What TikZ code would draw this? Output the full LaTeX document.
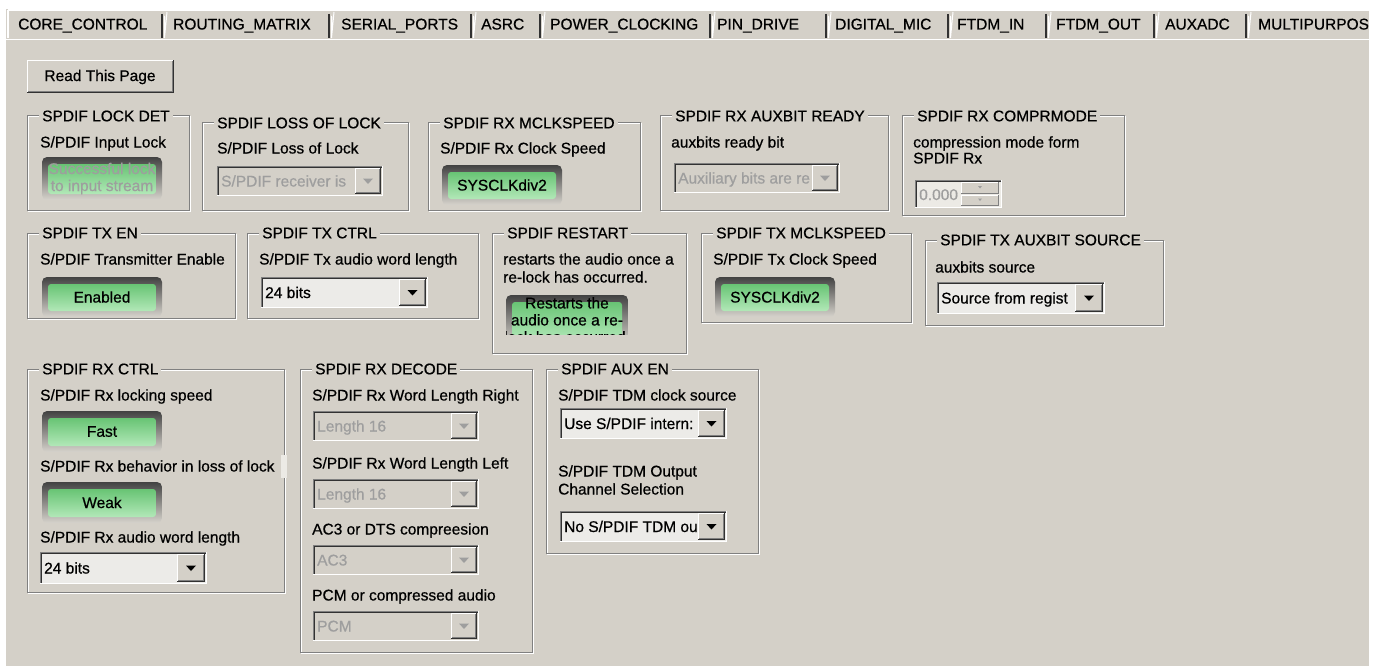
\documentclass[tikz,border=0pt]{standalone}
\usepackage{fontspec}
\setmainfont{Liberation Sans}[FakeBold=0.6]
\definecolor{bg}{RGB}{212,208,200}
\definecolor{dk}{RGB}{128,128,128}
\definecolor{dkk}{RGB}{50,50,50}
\definecolor{dis}{RGB}{158,158,158}
\definecolor{fld}{RGB}{236,235,232}
\definecolor{gtop}{RGB}{104,196,116}
\definecolor{gbot}{RGB}{178,232,184}
\definecolor{ftop}{RGB}{66,66,66}
\definecolor{fbot}{RGB}{214,211,204}
\definecolor{hil}{RGB}{236,234,229}
\tikzset{
  uif/.style={font=\fontsize{15.5}{17}\selectfont},
  txt/.style={uif, inner sep=0pt, anchor=base west},
  gtitle/.style={uif, fill=bg, inner xsep=3pt, inner ysep=1pt, anchor=west},
  ledtxt/.style={uif, inner sep=0pt, align=center},
  gline/.style={draw=dk, line width=1pt},
  wline/.style={draw=white, line width=1pt},
}
% group box: name, x1, y1, x2, y2, title
\newcommand{\mkGroup}[6]{%
  \draw[wline] (#2+1,#3+1) rectangle (#4+1,#5+1);
  \draw[gline] (#2,#3) rectangle (#4,#5);
  \node[gtitle] (#1) at (#2+12,#3) {#6};
}
% label: name, x, ycenter, text
\newcommand{\mkLabel}[4]{%
  \node[txt] (#1) at (#2,#3+5.5) {#4};
}
% LED button: name, x1, y1, x2, y2, text, text colour
\newcommand{\mkLed}[7]{%
  \shade[rounded corners=5pt, top color=ftop, bottom color=fbot] (#2,#3) rectangle (#4,#5);
  \shade[rounded corners=3pt, top color=gtop, bottom color=gbot] (#2+6,#3+7) rectangle (#4-6,#5-6);
  \node[ledtxt, text=#7] (#1) at ({(#2+#4)/2},{(#3+#5)/2}) {#6};
}
% drop-down: name, x1, y1, x2, y2, text, field colour, text colour
\newcommand{\mkDrop}[8]{%
  \pgfmathsetmacro\ddbl{#4-2-(#5-#3-4)}%
  \fill[#7] (#2,#3) rectangle (#4,#5);
  \draw[dk] (#2+0.5,#5) -- (#2+0.5,#3+0.5) -- (#4,#3+0.5);
  \draw[white] (#2,#5-0.5) -- (#4-0.5,#5-0.5) -- (#4-0.5,#3);
  \draw[dkk] (#2+1.5,#5-1) -- (#2+1.5,#3+1.5) -- (#4-1,#3+1.5);
  \fill[bg] (\ddbl,#3+2) rectangle (#4-2,#5-2);
  \draw[white] (\ddbl+0.5,#5-2) -- (\ddbl+0.5,#3+2.5) -- (#4-2,#3+2.5);
  \draw[dkk] (\ddbl,#5-2.5) -- (#4-2.5,#5-2.5) -- (#4-2.5,#3+2);
  \draw[dk] (\ddbl+1,#5-3.5) -- (#4-3.5,#5-3.5) -- (#4-3.5,#3+3);
  \fill[#8] ({(\ddbl+#4-2)/2-5},{(#3+#5)/2-2.5}) -- ({(\ddbl+#4-2)/2+5},{(#3+#5)/2-2.5}) -- ({(\ddbl+#4-2)/2},{(#3+#5)/2+3}) -- cycle;
  \begin{scope}
    \clip (#2+2,#3+2) rectangle (\ddbl,#5-2);
    \node[txt, text=#8] (#1) at (#2+4,{(#3+#5)/2+5.5}) {#6};
  \end{scope}
}
% tab separator
\newcommand{\mkSep}[1]{%
  \draw[dkk, line width=1.3pt] (#1,14) -- (#1,38);
  \draw[white, line width=1pt] (#1+2.5,16) -- (#1+2.5,38) -- (#1+5,12);
}
\begin{document}
\begin{tikzpicture}[x=1pt,y=-1pt]
\useasboundingbox (0,0) rectangle (1381,666);
\fill[white] (0,0) rectangle (1381,666);
\fill[bg] (6,9) rectangle (1369,666);
% tab strip
\draw[white, line width=1.5pt] (8,10) -- (1369,10);
\draw[white, line width=1.5pt] (8,10) -- (8,38);
\draw[white, line width=1.5pt] (6,39.5) -- (1369,39.5);
\foreach \sx in {162,329,471,540,710,826,948,1046,1154,1246} {\mkSep{\sx}}
\node[txt] (t1) at (18,29.5) {CORE\_CONTROL};
\node[txt] (t2) at (173,29.5) {ROUTING\_MATRIX};
\node[txt] (t3) at (341,29.5) {SERIAL\_PORTS};
\node[txt] (t4) at (481,29.5) {ASRC};
\node[txt] (t5) at (550,29.5) {POWER\_CLOCKING};
\node[txt] (t6) at (717,29.5) {PIN\_DRIVE};
\node[txt] (t7) at (835,29.5) {DIGITAL\_MIC};
\node[txt] (t8) at (957,29.5) {FTDM\_IN};
\node[txt] (t9) at (1056,29.5) {FTDM\_OUT};
\node[txt] (t10) at (1165,29.5) {AUXADC};
\begin{scope}
  \clip (1250,12) rectangle (1368,38);
  \node[txt] (t11) at (1258,29.5) {MULTIPURPOS};
\end{scope}
% Read This Page button
\fill[bg] (27,60) rectangle (174,93);
\draw[white] (27.5,93) -- (27.5,60.5) -- (174,60.5);
\draw[dkk] (27,92.5) -- (173.5,92.5) -- (173.5,60);
\draw[dk] (28,91.5) -- (172.5,91.5) -- (172.5,61);
\node[uif, inner sep=0pt] (read) at (100,77) {Read This Page};
% groups
\mkGroup{g1}{27}{116}{189}{210}{SPDIF LOCK DET}
\mkGroup{g2}{202}{123}{408}{210}{SPDIF LOSS OF LOCK}
\mkGroup{g3}{428}{123}{640}{210}{SPDIF RX MCLKSPEED}
\mkGroup{g4}{660}{116}{888}{210}{SPDIF RX AUXBIT READY}
\mkGroup{g5}{902}{116}{1124}{215}{SPDIF RX COMPRMODE}
\mkGroup{g6}{27}{233}{235}{318}{SPDIF TX EN}
\mkGroup{g7}{247}{233}{478}{318}{SPDIF TX CTRL}
\mkGroup{g8}{492}{233}{686}{353}{SPDIF RESTART}
\mkGroup{g9}{701}{233}{911}{322}{SPDIF TX MCLKSPEED}
\mkGroup{g10}{925}{240}{1163}{325}{SPDIF TX AUXBIT SOURCE}
\mkGroup{g11}{27}{369}{284}{592}{SPDIF RX CTRL}
\mkGroup{g12}{300}{369}{532}{652}{SPDIF RX DECODE}
\mkGroup{g13}{546}{369}{758}{553}{SPDIF AUX EN}
% labels
\mkLabel{l1}{40}{142}{S/PDIF Input Lock}
\mkLabel{l2}{217}{148}{S/PDIF Loss of Lock}
\mkLabel{l3}{440}{148}{S/PDIF Rx Clock Speed}
\mkLabel{l4}{671}{142}{auxbits ready bit}
\mkLabel{l5}{913}{142}{compression mode form}
\mkLabel{l5b}{913}{158}{SPDIF Rx}
\mkLabel{l6}{40}{259}{S/PDIF Transmitter Enable}
\mkLabel{l7}{259}{259}{S/PDIF Tx audio word length}
\mkLabel{l8}{503}{259}{restarts the audio once a}
\mkLabel{l8b}{503}{277}{re-lock has occurred.}
\mkLabel{l9}{713}{259}{S/PDIF Tx Clock Speed}
\mkLabel{l10}{935}{267}{auxbits source}
\mkLabel{l11}{40}{395}{S/PDIF Rx locking speed}
\fill[hil] (281,455) rectangle (287,478);
\mkLabel{l11b}{40}{466}{S/PDIF Rx behavior in loss of lock}
\mkLabel{l11c}{40}{537}{S/PDIF Rx audio word length}
\mkLabel{l12}{312}{395}{S/PDIF Rx Word Length Right}
\mkLabel{l12b}{312}{463}{S/PDIF Rx Word Length Left}
\mkLabel{l12c}{312}{529}{AC3 or DTS compreesion}
\mkLabel{l12d}{312}{595}{PCM or compressed audio}
\mkLabel{l13}{558}{395}{S/PDIF TDM clock source}
\mkLabel{l13b}{558}{471}{S/PDIF TDM Output}
\mkLabel{l13c}{558}{489}{Channel Selection}
% LEDs
\mkLed{led1}{42}{157}{162}{200}{Successful lock\\to input stream}{dis}
\mkLed{led3}{442}{165}{562}{205}{SYSCLKdiv2}{black}
\mkLed{led6}{42}{277}{162}{317}{Enabled}{black}
\mkLed{led9}{715}{277}{835}{317}{SYSCLKdiv2}{black}
\mkLed{led11a}{42}{411}{162}{452}{Fast}{black}
\mkLed{led11b}{42}{482}{162}{523}{Weak}{black}
\begin{scope}
  \clip (506,295) rectangle (628,334);
  \shade[rounded corners=5pt, top color=ftop, bottom color=fbot] (506,295) rectangle (628,345);
  \shade[rounded corners=3pt, top color=gtop, bottom color=gbot] (512,302) rectangle (622,340);
  \node[ledtxt, anchor=north] (led8) at (567,297) {Restarts the\\audio once a re-\\lock has occurred.};
\end{scope}
% drop-downs
\mkDrop{d2}{217}{166}{383}{196}{S/PDIF receiver is}{bg}{dis}
\mkDrop{d4}{674}{163}{840}{193}{Auxiliary bits are re}{bg}{dis}
\mkDrop{d7}{261}{277}{428}{308}{24 bits}{fld}{black}
\mkDrop{d10}{937}{282}{1105}{314}{Source from regist}{fld}{black}
\mkDrop{d11}{40}{552}{207}{584}{24 bits}{fld}{black}
\mkDrop{d12a}{313}{411}{479}{441}{Length 16}{bg}{dis}
\mkDrop{d12b}{313}{479}{479}{509}{Length 16}{bg}{dis}
\mkDrop{d12c}{313}{545}{479}{575}{AC3}{bg}{dis}
\mkDrop{d12d}{313}{611}{479}{641}{PCM}{bg}{dis}
\mkDrop{d13a}{560}{408}{727}{439}{Use S/PDIF intern:}{fld}{black}
\mkDrop{d13b}{560}{511}{727}{542}{No S/PDIF TDM ou}{fld}{black}
% spin box
\fill[hil] (915,180) rectangle (1002,208);
\draw[dk] (915.5,208) -- (915.5,180.5) -- (1002,180.5);
\draw[white] (915,207.5) -- (1001.5,207.5) -- (1001.5,180);
\draw[dkk] (916.5,207) -- (916.5,181.5) -- (1001,181.5);
\node[txt, text=dis] (spin) at (919,200) {0.000};
\fill[bg] (961,182) rectangle (999,193.5);
\fill[bg] (961,194.5) rectangle (999,206);
\draw[white] (961.5,193.5) -- (961.5,182.5) -- (999,182.5);
\draw[dk] (961,193) -- (998.5,193) -- (998.5,182);
\draw[white] (961.5,206) -- (961.5,195) -- (999,195);
\draw[dk] (961,205.5) -- (998.5,205.5) -- (998.5,194.5);
\fill[dis] (978,186) -- (982,186) -- (980,188.5) -- cycle;
\fill[dis] (978,198.5) -- (982,198.5) -- (980,201) -- cycle;
\end{tikzpicture}
\end{document}
